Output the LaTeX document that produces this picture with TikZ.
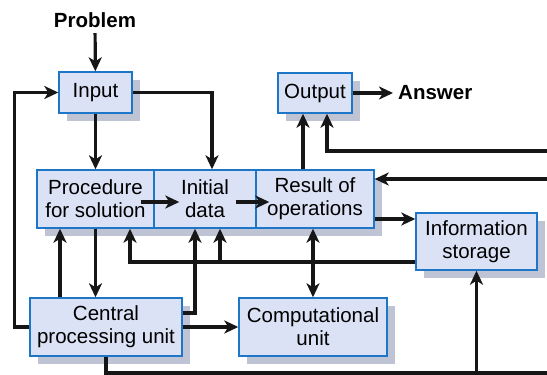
\documentclass[tikz,border=0pt]{standalone}
\usepackage{fontspec}
\setmainfont{Liberation Sans}
\usetikzlibrary{arrows.meta,shadows}
\definecolor{boxFill}{RGB}{219,226,245}
\definecolor{boxBlue}{RGB}{30,118,200}
\definecolor{boxShade}{RGB}{190,196,212}
\definecolor{lineBlack}{RGB}{22,22,22}
\tikzset{
  unit/.style={draw=boxBlue, fill=boxFill, line width=1.4pt, align=center, inner sep=0pt,
    font=\fontsize{20.5}{23}\selectfont,
    drop shadow={shadow xshift=8pt, shadow yshift=-8pt, fill=boxShade, opacity=1}},
  tag/.style={font=\fontsize{20.5}{23}\selectfont\bfseries, inner sep=5pt},
  link/.style={draw=lineBlack, line width=3.2pt},
  flow/.style={link, ->},
  twoway/.style={link, <->}
}

\begin{document}
\begin{tikzpicture}[x=1pt,y=-1pt,>={Stealth[length=14pt,width=13pt,inset=4pt]}]
    \useasboundingbox (0,0) rectangle (547,375);

    % units
    \node[unit, minimum width=73pt, minimum height=41pt] (input) at (95.5,92.5) {Input};
    \node[unit, minimum width=74pt, minimum height=40pt] (output) at (315,93) {Output};
    \node[unit, minimum width=117pt, minimum height=58pt] (proc) at (95.5,199) {Procedure\\for solution};
    \node[unit, minimum width=102pt, minimum height=58pt] (init) at (205,199) {Initial\\data};
    \node[unit, minimum width=118pt, minimum height=58pt] (result) at (315,199) {Result of\\operations};
    \node[unit, minimum width=121pt, minimum height=57pt] (storage) at (476.5,241.5) {Information\\storage};
    \node[unit, minimum width=152pt, minimum height=58pt] (cpu) at (106,327) {Central\\processing unit};
    \node[unit, minimum width=148pt, minimum height=58pt] (comp) at (313,327) {Computational\\unit};

    % problem in, answer out
    \node[tag] (problem) at (95,20.5) {Problem};
    \node[tag, anchor=west] (answer) at (393,93) {Answer};

    % free ends at the right edge, taps
    \coordinate (edgeOut) at (547,151);
    \coordinate (edgeRes) at (547,179);
    \coordinate (edgeLow) at (547,373);
    \coordinate (storeTap) at ([yshift=-20.5pt]storage.west);
    \coordinate (initTap) at ([xshift=15pt]init.south);
    \coordinate (initLeftTap) at ([xshift=-10pt]init.south);
    \coordinate (procTap) at ([xshift=34.5pt]proc.south);
    \coordinate (cpuLeftTap) at ([xshift=-46pt]cpu.north);
    \coordinate (cpuRightTap) at ([yshift=14pt]cpu.east);

    % connectors
    \draw[flow] (problem) -- (input);
    \draw[flow] (output) -- (answer);
    \draw[flow] (cpu.west) -- ++(-15,0) |- (input.west);
    \draw[flow] (input.east) -| ([xshift=7pt]init.north);
    \draw[flow] (input) -- (proc);
    \draw[flow] ([xshift=-14pt,yshift=-3pt]proc.east) -- ([xshift=26pt,yshift=-3pt]init.west);
    \draw[flow] ([xshift=-21pt,yshift=-3pt]init.east) -- ([xshift=14pt,yshift=-3pt]result.west);
    \draw[flow] ([xshift=-12pt]result.north) -- ([xshift=-12pt]output.south);
    \draw[flow] (edgeOut) -| ([xshift=12pt]output.south);
    \draw[flow] (edgeRes) -- (edgeRes -| result.east);
    \draw[flow] ([yshift=-20pt]result.east) -- ([yshift=-20pt]result.east -| storage.west);
    \draw[flow] (storeTap) -| (procTap);
    \draw[flow] (initTap |- storeTap) -- (initTap);
    \draw[twoway] (result.south -| comp.north) -- (comp.north);
    \draw[flow] (cpu) -- (comp);
    \draw[flow] (cpuLeftTap) -- (cpuLeftTap |- proc.south);
    \draw[flow] (proc.south) -- (proc.south |- cpu.north);
    \draw[flow] (cpuRightTap) -| (initLeftTap);
    \draw[link] (cpu.south) |- (edgeLow);
    \draw[flow] (storage.south |- edgeLow) -- (storage.south);
\end{tikzpicture}
\end{document}
